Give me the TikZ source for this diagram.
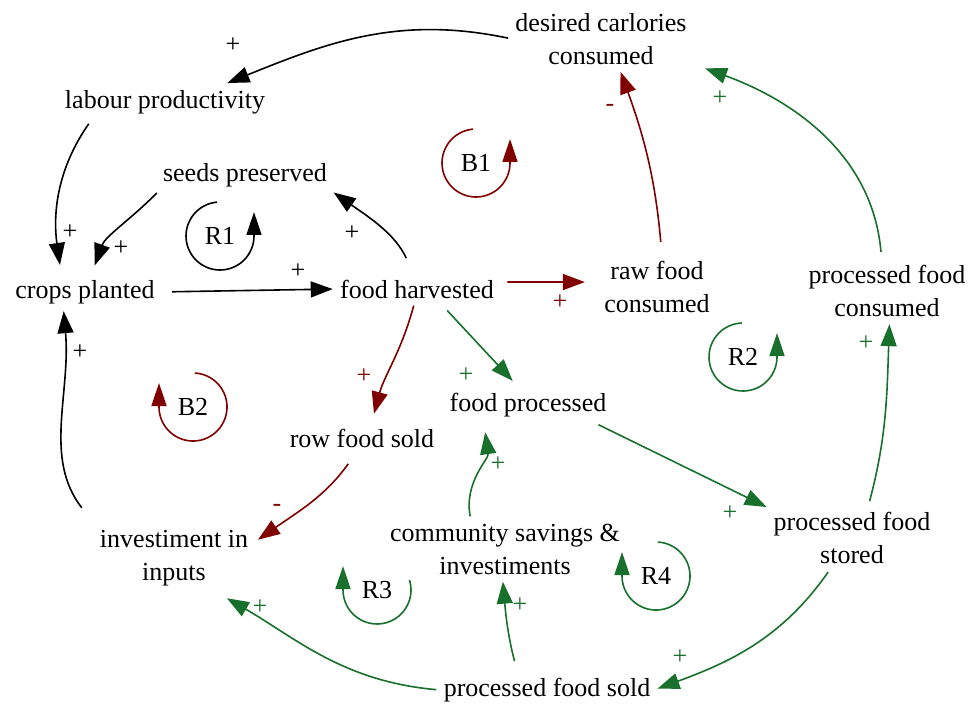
\documentclass[tikz,border=0pt]{standalone}
\usepackage{fontspec}
\setmainfont{Liberation Serif}
\usetikzlibrary{arrows.meta}
\definecolor{vred}{RGB}{128,0,0}
\definecolor{vgreen}{RGB}{25,112,45}

\begin{document}
\begin{tikzpicture}[x=0.5pt, y=-0.5pt,
  every node/.style = {font=\fontsize{13}{16.5}\selectfont,
    align=center, inner sep=1.5pt},
  link/.style = {line width=0.8pt, -{Triangle[length=11pt,width=8pt]},
    shorten >=2pt, shorten <=2pt},
  loopc/.style = {line width=0.8pt, -{Triangle[length=11.5pt,width=7.5pt]}}]
  \useasboundingbox (0,0) rectangle (972,705);

  % variables
  \node (dcc)  at (601,39)  {desired carlories\\consumed};
  \node (lp)   at (165,102) {labour productivity};
  \node (sp)   at (245,175) {seeds preserved};
  \node (cp)   at (85,292)  {crops planted};
  \node (fh)   at (417,289) {food harvested};
  \node (rfc)  at (657,287) {raw food\\consumed};
  \node (pfc)  at (887,291) {processed food\\consumed};
  \node (fp)   at (528,405) {food processed};
  \node (rfs)  at (362,438) {row food sold};
  \node (pfst) at (852,538) {processed food\\stored};
  \node (csi)  at (505,549) {community savings \&\\investiments};
  \node (inv)  at (174,558) {investiment in\\inputs};
  \node (pfso) at (547,690) {processed food sold};

  % black links
  \draw[link, shorten >=5pt] (dcc.west) to[out=168,in=22] (lp.16);
  \draw[link, shorten <=4pt, shorten >=6pt] (lp.-168) to[out=235,in=98] (cp.147);
  \draw[link, shorten >=6pt] (sp.south west) to[out=225,in=70] (cp.70);
  \draw[link, shorten <=7pt] (cp.east) -- (fh.west);
  \draw[link, shorten <=10pt] (fh.100) to[out=115,in=-35] (sp.south east);
  \draw[link, shorten <=12pt] (inv.north west) to[out=128,in=-85] (cp.-145);

  % red links
  \draw[link, vred, shorten <=5pt, shorten >=8pt] (fh.5) -- (rfc.175);
  \draw[link, vred, shorten <=8pt] (rfc.80) to[out=95,in=-70] (dcc.-58);
  \draw[link, vred, shorten >=6pt] (fh.-100) to[out=-105,in=75] (rfs.55);
  \draw[link, vred, shorten <=8pt, shorten >=4pt] (rfs.-110) to[out=235,in=35] (inv.10);

  % green links
  \draw[link, vgreen, shorten <=6pt, shorten >=6pt] (fh.-30) -- (fp.115);
  \draw[link, vgreen, shorten <=5pt] (fp.-14) -- (pfst.north west);
  \draw[link, vgreen, shorten <=3pt] (pfst.-125) to[out=-125,in=20] (pfso.east);
  \draw[link, vgreen, shorten >=9pt] (pfso.west) to[out=175,in=-30] (inv.-40);
  \draw[link, vgreen, shorten <=7pt] (pfso.152) to[out=105,in=-85] (csi.-95);
  \draw[link, vgreen, shorten >=6pt] (csi.140) to[out=100,in=-82] (fp.-161);
  \draw[link, vgreen, shorten <=4pt] (pfst.62) to[out=75,in=-92] (pfc.-85);
  \draw[link, vgreen, shorten <=5pt, shorten >=8pt] (pfc.100) to[out=95,in=-20] (dcc.-15);

  % polarities
  \node (s1)  at (233,45)  {+};
  \node (s2)  at (70,232)  {+};
  \node (s3)  at (121,248) {+};
  \node (s4)  at (298,271) {+};
  \node (s5)  at (352,233) {+};
  \node[vred] (s6)  at (560,302) {+};
  \node[vred] (s7)  at (610,108) {-};
  \node[vred] (s8)  at (364,376) {+};
  \node[vred] (s9)  at (277,508) {-};
  \node (s10) at (80,352)  {+};
  \node[vgreen] (s11) at (466,375) {+};
  \node[vgreen] (s12) at (730,513) {+};
  \node[vgreen] (s13) at (680,657) {+};
  \node[vgreen] (s14) at (260,607) {+};
  \node[vgreen] (s15) at (520,605) {+};
  \node[vgreen] (s16) at (498,464) {+};
  \node[vgreen] (s17) at (866,343) {+};
  \node[vgreen] (s18) at (720,98)  {+};

  % loops
  \node (r1) at (220,236) {R1};
  \draw[loopc] ([shift={(95:17pt)}]r1.center) arc[start angle=95,end angle=360,radius=17pt] -- ++(90:12pt);
  \node (b1) at (476,163) {B1};
  \draw[loopc, vred] ([shift={(95:17pt)}]b1.center) arc[start angle=95,end angle=360,radius=17pt] -- ++(90:12pt);
  \node (b2) at (193,407) {B2};
  \draw[loopc, vred] ([shift={(87:17pt)}]b2.center) arc[start angle=87,end angle=-180,radius=17pt] -- ++(90:12pt);
  \node (r2) at (743,357) {R2};
  \draw[loopc, vgreen] ([shift={(92:17pt)}]r2.center) arc[start angle=92,end angle=360,radius=17pt] -- ++(90:12pt);
  \node (r3) at (377,590) {R3};
  \draw[loopc, vgreen] ([shift={(17:17pt)}]r3.center) arc[start angle=17,end angle=-180,radius=17pt] -- ++(90:12pt);
  \node (r4) at (656,576) {R4};
  \draw[loopc, vgreen] ([shift={(87:17pt)}]r4.center) arc[start angle=87,end angle=-180,radius=17pt] -- ++(90:12pt);
\end{tikzpicture}
\end{document}
